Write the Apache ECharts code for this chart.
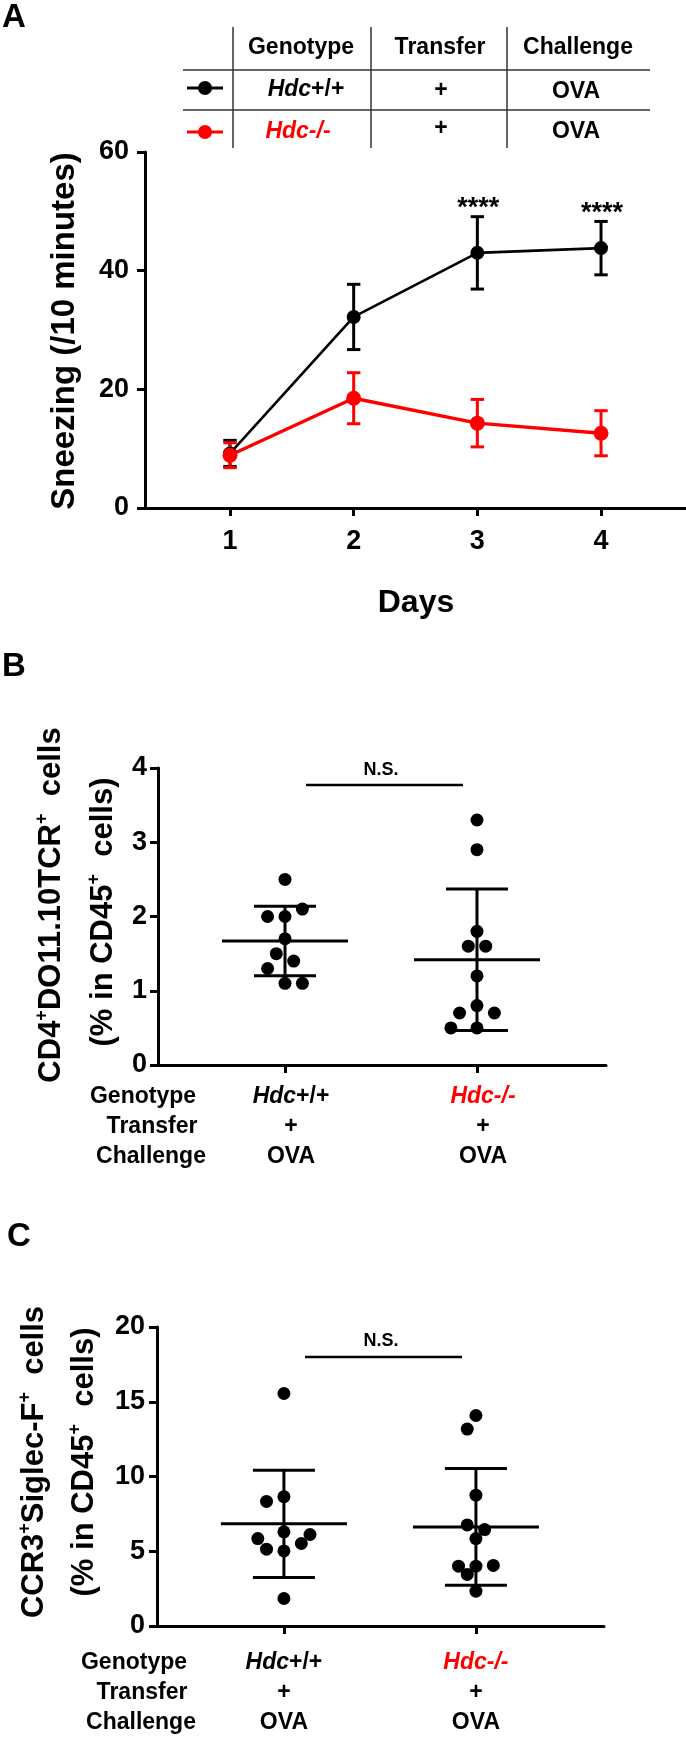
<!DOCTYPE html>
<html><head><meta charset="utf-8">
<script src="https://cdn.jsdelivr.net/npm/echarts@6/dist/echarts.min.js"></script>
<style>html,body{margin:0;padding:0;background:#fff}#c{width:686px;height:1738px}</style>
</head><body><div id="c"></div>
<script>
// ---------- Panel A data ----------
const days = [1, 2, 3, 4];
const wtMean = [9.2, 32.2, 43.0, 43.8];
const wtErr = [2.2, 5.5, 6.1, 4.5];
const koMean = [8.9, 18.5, 14.3, 12.6];
const koErr = [2.1, 4.3, 4.0, 3.8];
const wtSig = ['', '', '****', '****'];

// ---------- Table / group labels ----------
const genotypes = ['Hdc+/+', 'Hdc-/-'];
const transfer = ['+', '+'];
const challenge = ['OVA', 'OVA'];
const rowHeads = ['Genotype', 'Transfer', 'Challenge'];

// ---------- Panel B data (% CD4+DO11.10TCR+ in CD45+) ----------
const bWT = [2.5, 2.0, 2.0, 2.1, 1.7, 1.5, 1.4, 1.3, 1.1, 1.1];
const bKO = [3.3, 2.9, 1.8, 1.6, 1.6, 1.2, 0.8, 0.7, 0.7, 0.5, 0.5];
// ---------- Panel C data (% CCR3+Siglec-F+ in CD45+) ----------
const cWT = [15.55, 8.65, 8.33, 6.3, 5.02, 5.14, 5.52, 5.85, 6.12, 1.84];
const cKO = [14.08, 13.17, 8.75, 5.85, 6.76, 6.45, 4.0, 4.0, 4.05, 3.45, 2.33];

// ---------- layout ----------
const FF = '"Liberation Sans", Arial, Helvetica, sans-serif';
const RED = '#ff0000';
const LA = {left: 145, top: 152, width: 541, height: 356, xmin: 0.3128, xmax: 4.687, ymax: 60, step: 20};
const LB = {left: 158, top: 768, width: 448, height: 297, xmin: 0.3385, xmax: 2.672, ymax: 4, step: 1};
const LC = {left: 157, top: 1327, width: 447, height: 299, xmin: 0.339, xmax: 2.667, ymax: 20, step: 5};

function meanSd(a) {
  const m = a.reduce((s, v) => s + v, 0) / a.length;
  const sd = Math.sqrt(a.reduce((s, v) => s + (v - m) * (v - m), 0) / (a.length - 1));
  return [m, sd];
}
// simple beeswarm in pixel space -> offsets in x data units
function swarm(vals, L) {
  const pxY = L.height / L.ymax, pxX = L.width / (L.xmax - L.xmin);
  const step = 8.7, dx = 10, dy = 16;
  const cands = [0];
  for (let i = 1; i < 12; i++) cands.push(-i * step, i * step);
  const placed = [];
  return vals.map(v => {
    const y = v * pxY;
    let off = 0;
    for (const c of cands) {
      if (placed.every(p => ((p.x - c) / dx) ** 2 + ((p.y - y) / dy) ** 2 >= 1)) { off = c; break; }
    }
    placed.push({x: off, y});
    return off / pxX;
  });
}
function scatterData(vals, gx, L) {
  const offs = swarm(vals, L);
  return vals.map((v, i) => [gx + offs[i], v]);
}

const lineSt = c => ({stroke: c, lineWidth: 3});
function errRender(color, sig) {
  return function (params, api) {
    const x = api.value(0), m = api.value(1), e = api.value(2);
    const t = api.coord([x, m + e]), b = api.coord([x, m - e]);
    const w = 6.7;
    const ch = [
      {type: 'line', shape: {x1: t[0], y1: t[1], x2: b[0], y2: b[1]}, style: lineSt(color)},
      {type: 'line', shape: {x1: t[0] - w, y1: t[1], x2: t[0] + w, y2: t[1]}, style: lineSt(color)},
      {type: 'line', shape: {x1: b[0] - w, y1: b[1], x2: b[0] + w, y2: b[1]}, style: lineSt(color)}
    ];
    const s = sig ? sig[params.dataIndex] : '';
    if (s) ch.push({type: 'text', x: t[0] + 1, y: t[1] - 8,
      style: {text: s, fill: '#000', font: 'bold 27px ' + FF, align: 'center', verticalAlign: 'middle'}});
    return {type: 'group', children: ch};
  };
}
function msRender(params, api) {
  const x = api.value(0), m = api.value(1), sd = api.value(2);
  const pm = api.coord([x, m]), t = api.coord([x, m + sd]), b = api.coord([x, m - sd]);
  const mw = 63, cw = 31;
  return {type: 'group', children: [
    {type: 'line', shape: {x1: pm[0] - mw, y1: pm[1], x2: pm[0] + mw, y2: pm[1]}, style: lineSt('#000')},
    {type: 'line', shape: {x1: t[0], y1: t[1], x2: b[0], y2: b[1]}, style: lineSt('#000')},
    {type: 'line', shape: {x1: t[0] - cw, y1: t[1], x2: t[0] + cw, y2: t[1]}, style: lineSt('#000')},
    {type: 'line', shape: {x1: b[0] - cw, y1: b[1], x2: b[0] + cw, y2: b[1]}, style: lineSt('#000')}
  ]};
}

const axisLineSt = {show: true, onZero: false, lineStyle: {color: '#000', width: 3}};
const tickSt = {show: true, length: 8, inside: false, lineStyle: {color: '#000', width: 3}};
const lblSt = {color: '#000', fontSize: 27, fontWeight: 'bold', fontFamily: FF};

function grid(L) {
  return {left: L.left, top: L.top, width: L.width, height: L.height, containLabel: false, outerBoundsMode: 'none'};
}
function yAx(L, gi, margin) {
  return {type: 'value', gridIndex: gi, min: 0, max: L.ymax, interval: L.step,
    axisLine: axisLineSt, axisTick: tickSt, splitLine: {show: false},
    axisLabel: Object.assign({margin: margin}, lblSt)};
}
const groupX = [1, 2];
const lblRich = {
  it: {fontStyle: 'italic', fontWeight: 'bold', fontSize: 23, fontFamily: FF, color: '#000', lineHeight: 30},
  b: {fontWeight: 'bold', fontSize: 23, fontFamily: FF, color: '#000', lineHeight: 30},
  r: {fontStyle: 'italic', fontWeight: 'bold', fontSize: 23, fontFamily: FF, color: RED, lineHeight: 30}
};
function genoRich(i) {
  const g = genotypes[i];
  return i === 0 ? '{it|' + g.slice(0, 3) + '}{b|' + g.slice(3) + '}' : '{r|' + g + '}';
}
function xGroupAx(L, gi, margin, pad) {
  return {type: 'value', gridIndex: gi, min: L.xmin, max: L.xmax,
    axisLine: axisLineSt, splitLine: {show: false},
    axisTick: Object.assign({customValues: groupX}, tickSt),
    axisLabel: {customValues: groupX, margin: margin, padding: pad, rich: lblRich,
      formatter: v => { const i = Math.round(v) - 1; return genoRich(i) + '\n{b|' + transfer[i] + '}\n{b|' + challenge[i] + '}'; }}};
}

const [bWm, bWs] = meanSd(bWT), [bKm, bKs] = meanSd(bKO);
const [cWm, cWs] = meanSd(cWT), [cKm, cKs] = meanSd(cKO);

// ---------- graphic (labels, legend table, annotations) ----------
function T(x, y, text, size, o) {
  o = o || {};
  const st = {text: text, fill: o.color || '#000', font: (o.italic ? 'italic ' : '') + 'bold ' + size + 'px ' + FF,
    align: o.align || 'center', verticalAlign: 'middle'};
  if (o.rich) st.rich = o.rich;
  return {type: 'text', x: x, y: y, rotation: o.rot || 0, z: 100, style: st};
}
function L(x1, y1, x2, y2, w, c) {
  return {type: 'line', z: 100, shape: {x1, y1, x2, y2}, style: {stroke: c || '#000', lineWidth: w}};
}
const tRich = {
  i: {fontStyle: 'italic', fontWeight: 'bold', fontSize: 23, fontFamily: FF, fill: '#000'},
  n: {fontWeight: 'bold', fontSize: 23, fontFamily: FF, fill: '#000'},
  r: {fontStyle: 'italic', fontWeight: 'bold', fontSize: 23, fontFamily: FF, fill: RED}
};
const titleRich = {
  t: {fontWeight: 'bold', fontSize: 31, fontFamily: FF, fill: '#000', lineHeight: 36},
  s: {fontWeight: 'bold', fontSize: 18, fontFamily: FF, fill: '#000', verticalAlign: 'top', lineHeight: 18}
};
const R = Math.PI / 2;
const graphics = [
  // panel letters
  T(14, 18, 'A', 33), T(14, 667, 'B', 33), T(19, 1237, 'C', 33),
  // legend table
  L(233, 27, 233, 148, 1.5, '#333'), L(371, 27, 371, 148, 1.5, '#333'), L(507, 27, 507, 148, 1.5, '#333'),
  L(183, 70, 650, 70, 1.5, '#333'), L(183, 110, 650, 110, 1.5, '#333'),
  T(301, 48, rowHeads[0], 23), T(440, 48, rowHeads[1], 23), T(578, 48, rowHeads[2], 23),
  L(187, 88, 223, 88, 3, '#000'), {type: 'circle', z: 100, shape: {cx: 205, cy: 88, r: 7}, style: {fill: '#000'}},
  L(187, 132, 223, 132, 3, RED), {type: 'circle', z: 100, shape: {cx: 205, cy: 132, r: 7}, style: {fill: RED}},
  T(306, 90, '{i|Hdc}{n|+/+}', 23, {rich: tRich}), T(298, 132, '{r|' + genotypes[1] + '}', 23, {rich: tRich}),
  T(441, 91, transfer[0], 23), T(441, 129, transfer[1], 23),
  T(576, 92, challenge[0], 23), T(576, 132, challenge[1], 23),
  // panel A axis titles
  T(65, 331, 'Sneezing (/10 minutes)', 33, {rot: R}),
  T(416, 603, 'Days', 32),
  // panel B titles
  T(51, 905, '{t|CD4}{s|+}{t|DO11.10TCR}{s|+}{t|  cells}', 31, {rot: R, rich: titleRich}),
  T(103, 912, '{t|(% in CD45}{s|+}{t|  cells)}', 31, {rot: R, rich: titleRich}),
  // panel C titles
  T(34, 1462, '{t|CCR3}{s|+}{t|Siglec-F}{s|+}{t|  cells}', 31, {rot: R, rich: titleRich}),
  T(84, 1462, '{t|(% in CD45}{s|+}{t|  cells)}', 31, {rot: R, rich: titleRich}),
  // row headers under B and C
  T(143, 1097, rowHeads[0], 23), T(152, 1127, rowHeads[1], 23), T(151, 1157, rowHeads[2], 23),
  T(134, 1663, rowHeads[0], 23), T(142, 1693, rowHeads[1], 23), T(141, 1723, rowHeads[2], 23),
  // N.S. annotations
  T(381, 770, 'N.S.', 18), L(306, 785, 463, 785, 2.5),
  T(381, 1341, 'N.S.', 18), L(305, 1357, 462, 1357, 2.5)
];

const dotStyle = {color: '#000', opacity: 1};
const option = {
  animation: false,
  backgroundColor: '#fff',
  grid: [grid(LA), grid(LB), grid(LC)],
  xAxis: [
    {type: 'value', gridIndex: 0, min: LA.xmin, max: LA.xmax, axisLine: axisLineSt, splitLine: {show: false},
      axisTick: Object.assign({customValues: days}, tickSt),
      axisLabel: Object.assign({customValues: days, margin: 20}, lblSt)},
    xGroupAx(LB, 1, 17, [0, 0, 0, 12]),
    xGroupAx(LC, 2, 22, [0, 0, 0, 0])
  ],
  yAxis: [yAx(LA, 0, 16), yAx(LB, 1, 11), yAx(LC, 2, 12)],
  graphic: graphics,
  series: [
    {type: 'custom', xAxisIndex: 0, yAxisIndex: 0, renderItem: errRender('#000', wtSig), encode: {x: 0, y: 1},
      data: days.map((d, i) => [d, wtMean[i], wtErr[i]])},
    {type: 'line', xAxisIndex: 0, yAxisIndex: 0, data: days.map((d, i) => [d, wtMean[i]]),
      symbol: 'circle', symbolSize: 14, itemStyle: {color: '#000', opacity: 1}, lineStyle: {color: '#000', width: 2.6}},
    {type: 'custom', xAxisIndex: 0, yAxisIndex: 0, renderItem: errRender(RED, null), encode: {x: 0, y: 1},
      data: days.map((d, i) => [d, koMean[i], koErr[i]])},
    {type: 'line', xAxisIndex: 0, yAxisIndex: 0, data: days.map((d, i) => [d, koMean[i]]),
      symbol: 'circle', symbolSize: 15, itemStyle: {color: RED, opacity: 1}, lineStyle: {color: RED, width: 3.4}},
    {type: 'scatter', xAxisIndex: 1, yAxisIndex: 1, symbolSize: 13, itemStyle: dotStyle, data: scatterData(bWT, 1, LB)},
    {type: 'scatter', xAxisIndex: 1, yAxisIndex: 1, symbolSize: 13, itemStyle: dotStyle, data: scatterData(bKO, 2, LB)},
    {type: 'custom', xAxisIndex: 1, yAxisIndex: 1, renderItem: msRender, encode: {x: 0, y: 1},
      data: [[1, bWm, bWs], [2, bKm, bKs]]},
    {type: 'scatter', xAxisIndex: 2, yAxisIndex: 2, symbolSize: 13, itemStyle: dotStyle, data: scatterData(cWT, 1, LC)},
    {type: 'scatter', xAxisIndex: 2, yAxisIndex: 2, symbolSize: 13, itemStyle: dotStyle, data: scatterData(cKO, 2, LC)},
    {type: 'custom', xAxisIndex: 2, yAxisIndex: 2, renderItem: msRender, encode: {x: 0, y: 1},
      data: [[1, cWm, cWs], [2, cKm, cKs]]}
  ]
};
const chart = echarts.init(document.getElementById('c'), null, {renderer: 'canvas'});
chart.setOption(option);
</script>
</body></html>
